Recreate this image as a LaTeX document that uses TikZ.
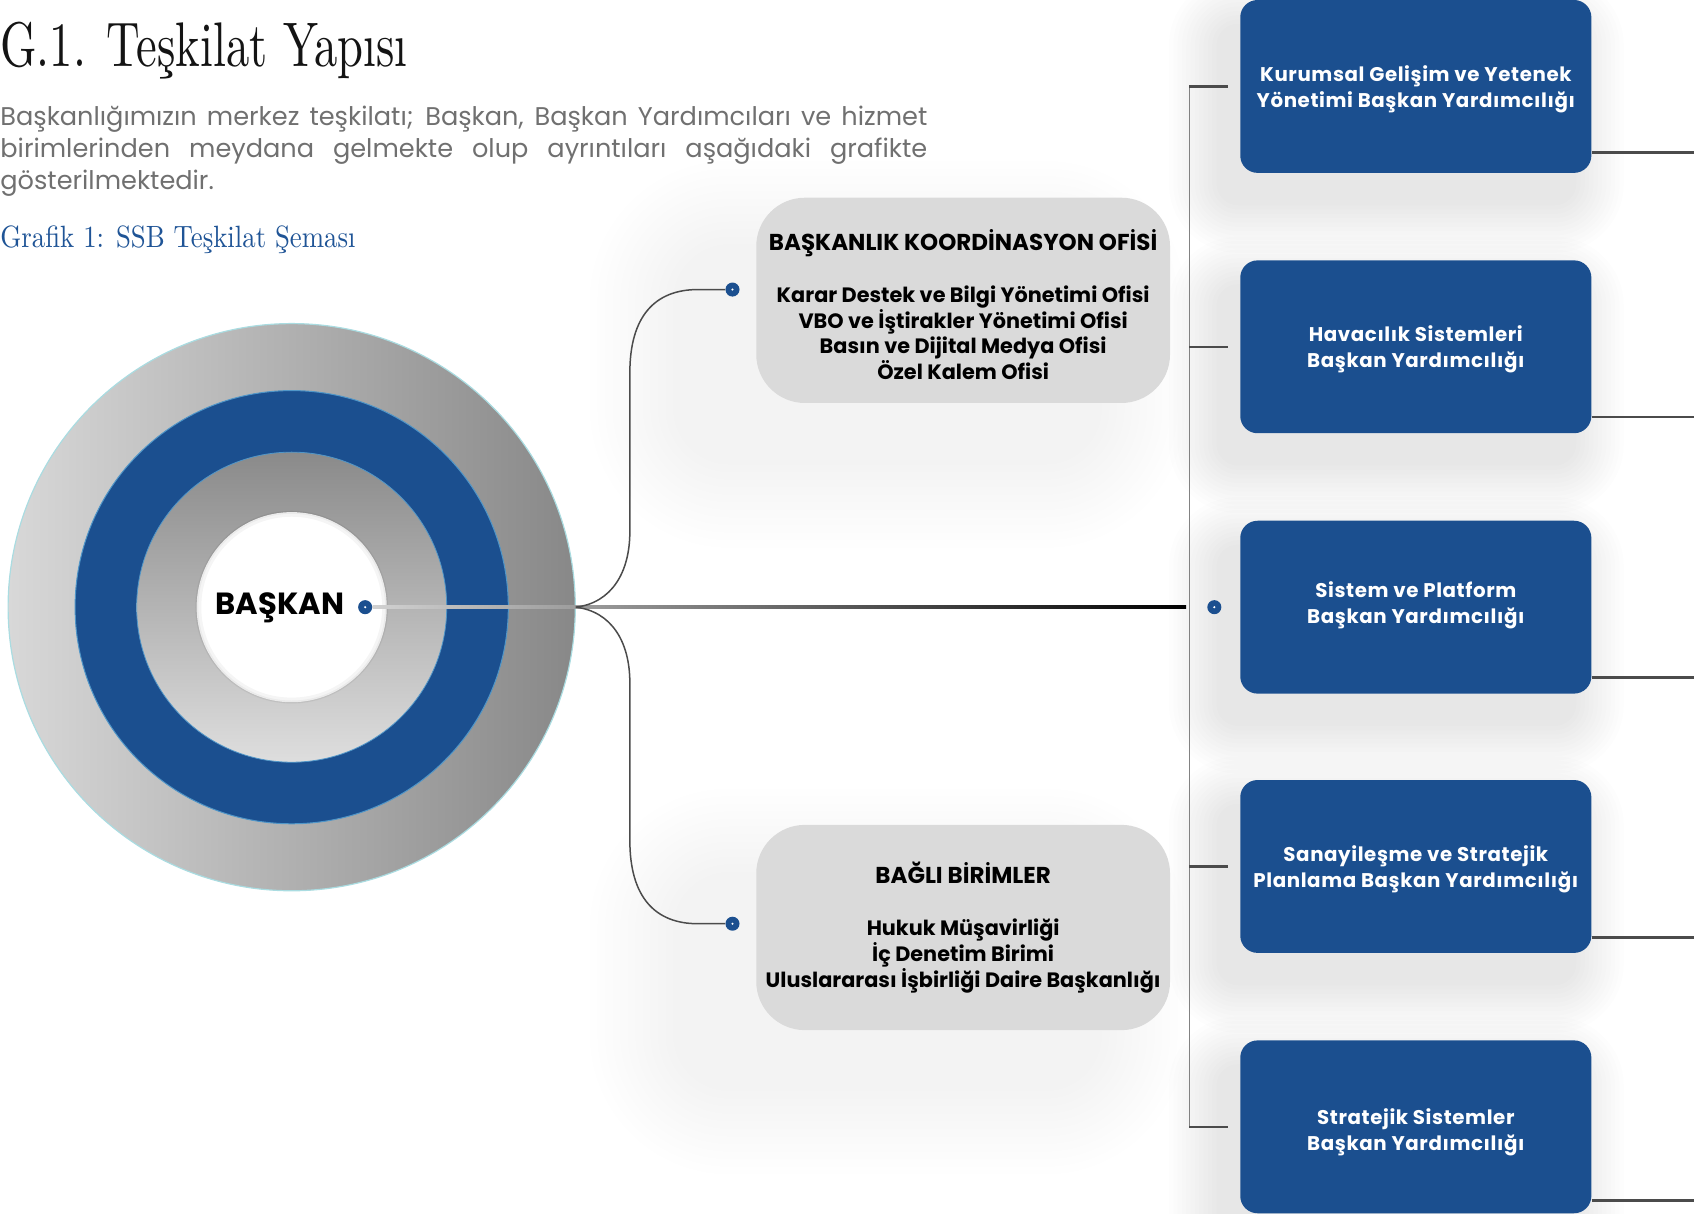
\documentclass[tikz,border=0pt]{standalone}
\usepackage{fontspec}
\usetikzlibrary{calc}
\newfontfamily\popfont{Poppins}
\newfontfamily\titlefont{lmroman10-regular.otf}[FakeStretch=0.74]
\newfontfamily\capfont{lmroman10-regular.otf}[FakeStretch=0.87]
\definecolor{ssbblue}{RGB}{27,79,143}
\definecolor{capblue}{RGB}{31,84,150}
\definecolor{boxgray}{RGB}{218,218,218}
\definecolor{lineg}{RGB}{75,75,75}
\definecolor{busg}{RGB}{130,130,130}
\definecolor{paratext}{RGB}{112,112,112}
\newcommand{\softshadow}[9]{% x1 y1 x2 y2 dx dy radius step opacity
  \foreach \k in {1,...,12}{
    \fill[black, opacity=#9, rounded corners={(#7+\k*#8)*0.5402pt}]
      ({#1+#5-\k*#8},{#2+#6-\k*#8}) rectangle ({#3+#5+\k*#8},{#4+#6+\k*#8});
  }}
\tikzset{
  dotn/.style={circle, fill=ssbblue, minimum size=13*0.5402pt, inner sep=0pt,
    path picture={\fill[white] (path picture bounding box.center) circle (0.6pt);}},
  graybox/.style={rounded corners=45*0.5402pt, fill=boxgray,
    minimum width=383*0.5402pt, minimum height=190*0.5402pt, inner sep=0pt},
  graytext/.style={align=center, inner sep=0pt,
    font=\popfont\bfseries\fontsize{10.4}{12.96}\selectfont},
  bluebox/.style={rounded corners=16*0.5402pt, fill=ssbblue,
    minimum width=325*0.5402pt, minimum height=160*0.5402pt, inner sep=0pt},
  bluetext/.style={align=center, text=white, inner sep=0pt,
    font=\popfont\bfseries\fontsize{9.9}{12.96}\selectfont\addfontfeatures{LetterSpace=3}},
  conn/.style={draw=lineg, line width=0.75pt},
  bus/.style={draw=busg, line width=0.9pt},
  stub/.style={draw=lineg, line width=1.3pt},
  rline/.style={draw=lineg, line width=1.3pt},
  paraline/.style={anchor=base west, inner sep=0pt, text=paratext,
    font=\popfont\fontsize{12.8}{16}\selectfont},
}
\newcommand{\headfont}{\fontsize{11.5}{12.96}\selectfont}
\begin{document}
\begin{tikzpicture}[x=0.5402pt, y=-0.5402pt]
\useasboundingbox (0,0) rectangle (1568,1123);

% ---------- header texts ----------
\node[anchor=base west, inner sep=0pt, font=\titlefont\fontsize{31.5}{36}\selectfont, text=black!92]
  (title) at (0,62) {G.1. Teşkilat Yapısı};
\node[paraline] (p1) at (0,116) {\makebox[463.5pt][s]{Başkanlığımızın merkez teşkilatı; Başkan, Başkan Yardımcıları ve hizmet}};
\node[paraline] (p2) at (0,146) {\makebox[463.5pt][s]{birimlerinden meydana gelmekte olup ayrıntıları aşağıdaki grafikte}};
\node[paraline] (p3) at (0,175) {gösterilmektedir.};
\node[anchor=base west, inner sep=0pt, font=\capfont\fontsize{15.4}{18}\selectfont, text=capblue]
  (cap) at (0,229) {Grafik 1: SSB Teşkilat Şeması};

% ---------- shadows ----------
\softshadow{700}{183}{1083}{373}{-70}{50}{45}{7}{0.005}
\softshadow{700}{764}{1083}{953}{-70}{50}{45}{7}{0.005}
\foreach \t in {0,241,482,722,963}{
  \softshadow{1148}{\t}{1473}{\t+160}{-18}{26}{16}{4}{0.006}
}

% ---------- concentric circles ----------
\coordinate (C) at (270,562);
\shade[left color={rgb,255:red,216;green,216;blue,216}, right color={rgb,255:red,136;green,136;blue,136}]
  (C) circle [radius=262.5*0.5402pt];
\draw[draw={rgb,255:red,170;green,220;blue,225}, line width=0.6pt] (C) circle [radius=262.5*0.5402pt];
\fill[ssbblue] (C) circle [radius=200.5*0.5402pt];
\draw[draw={rgb,255:red,80;green,150;blue,200}, line width=0.5pt] (C) circle [radius=200.5*0.5402pt];
\shade[shading angle=45, top color={rgb,255:red,138;green,138;blue,138}, bottom color={rgb,255:red,222;green,222;blue,222}]
  (C) circle [radius=143.5*0.5402pt];
\draw[draw={rgb,255:red,80;green,150;blue,200}, line width=0.4pt] (C) circle [radius=143.5*0.5402pt];
\fill[white] (C) circle [radius=88*0.5402pt];
\draw[draw=black, opacity=0.04, line width=3pt] (C) circle [radius=86.5*0.5402pt];
\draw[draw=black, opacity=0.04, line width=1.2pt] (C) circle [radius=87.5*0.5402pt];

% ---------- nodes ----------
\node[inner sep=0pt, font=\popfont\bfseries\fontsize{15.3}{17}\selectfont] (bk) at (259,563) {BAŞKAN};
\node[dotn] (bd) at (338,562) {};
\coordinate (J) at (533,562);
\coordinate (Lend) at (1098,562);
\node[dotn] (dm) at (1124,562) {};
\node[dotn] (d1) at (678,268) {};
\node[dotn] (d2) at (678,855) {};

\node[graybox] (g1) at (891.5,278) {};
\node[graytext] (g1t) at ($(g1.center)+(0,4)$) {{\headfont BAŞKANLIK KOORDİNASYON OFİSİ}\\[12.96pt]
  Karar Destek ve Bilgi Yönetimi Ofisi\\ VBO ve İştirakler Yönetimi Ofisi\\
  Basın ve Dijital Medya Ofisi\\ Özel Kalem Ofisi};
\node[graybox] (g2) at (891.5,858.5) {};
\node[graytext] (g2t) at ($(g2.center)+(0,0)$) {{\headfont BAĞLI BİRİMLER}\\[12.96pt]
  Hukuk Müşavirliği\\ İç Denetim Birimi\\ Uluslararası İşbirliği Daire Başkanlığı};

\node[bluebox] (b1) at (1310.5,80) {};
\node[bluebox] (b2) at (1310.5,321) {};
\node[bluebox] (b3) at (1310.5,562) {};
\node[bluebox] (b4) at (1310.5,802) {};
\node[bluebox] (b5) at (1310.5,1043) {};
\node[bluetext] (b1t) at ($(b1.center)+(0,3)$) {Kurumsal Gelişim ve Yetenek\\Yönetimi Başkan Yardımcılığı};
\node[bluetext] (b2t) at ($(b2.center)+(0,2)$) {Havacılık Sistemleri\\Başkan Yardımcılığı};
\node[bluetext] (b3t) at ($(b3.center)+(0,-2)$) {Sistem ve Platform\\Başkan Yardımcılığı};
\node[bluetext] (b4t) at ($(b4.center)+(0,3)$) {Sanayileşme ve Stratejik\\Planlama Başkan Yardımcılığı};
\node[bluetext] (b5t) at ($(b5.center)+(0,5)$) {Stratejik Sistemler\\Başkan Yardımcılığı};

% ---------- connectors ----------
\shade[left color=black!18, right color=black] ($(bd.east)+(0,-1.4)$) rectangle ($(Lend)+(0,1.4)$);
\draw[conn] (J) .. controls (566,558) and (583,530) .. (583,492) -- (583,345)
  .. controls (583,293) and (606,268) .. (646,268) -- (d1.west);
\draw[conn] (J) .. controls (566,566) and (583,594) .. (583,632) -- (583,778)
  .. controls (583,830) and (606,855) .. (646,855) -- (d2.west);

\coordinate (vt) at (1101,80);
\coordinate (vb) at (1101,1043);
\draw[bus] (vt) -- (vb);
\foreach \b in {b1,b2,b4,b5}{
  \draw[stub] (vt |- \b.center) -- ($(\b.west)+(-11,0)$);
}
\coordinate (re) at (1568,0);
\foreach \b/\yy in {b1/141,b2/386,b3/627,b4/868,b5/1111}{
  \draw[rline] (\b.east |- 0,\yy) -- (re |- 0,\yy);
}
\end{tikzpicture}
\end{document}
